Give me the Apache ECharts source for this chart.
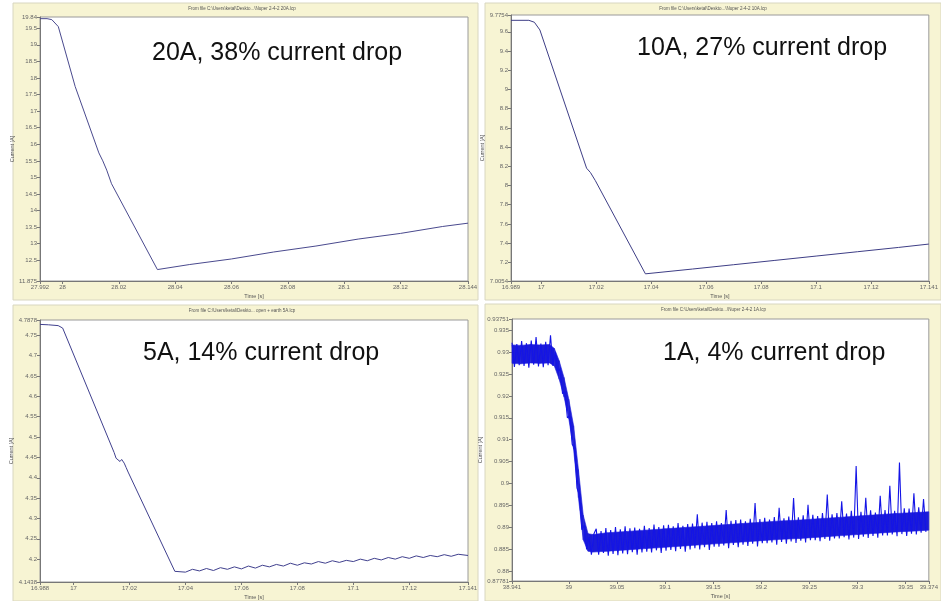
<!DOCTYPE html>
<html>
<head>
<meta charset="utf-8">
<title>Current drop</title>
<script src="https://cdn.jsdelivr.net/npm/echarts@6.0.0/dist/echarts.min.js"></script>
<style>
html, body { margin: 0; padding: 0; background: #fff; }
#main { width: 941px; height: 601px; }
</style>
</head>
<body>
<div id="main"></div>
<script>
// 20A
var time20 = [27.992, 27.9945, 27.9962, 27.9985, 28.0045, 28.0129, 28.0143, 28.0157, 28.0174, 28.0337, 28.045, 28.06, 28.075, 28.09, 28.105, 28.12, 28.135, 28.144];
var curr20 = [19.79, 19.79, 19.76, 19.55, 17.74, 15.74, 15.50, 15.22, 14.81, 12.22, 12.37, 12.54, 12.75, 12.93, 13.14, 13.31, 13.52, 13.62];
var yTicks20 = [11.875, 12.5, 13, 13.5, 14, 14.5, 15, 15.5, 16, 16.5, 17, 17.5, 18, 18.5, 19, 19.5, 19.84];
var xTicks20 = [27.992, 28, 28.02, 28.04, 28.06, 28.08, 28.1, 28.12, 28.144];

// 10A
var time10 = [16.989, 16.9955, 16.9975, 16.9995, 17.0165, 17.0179, 17.0197, 17.0379, 17.055, 17.07, 17.085, 17.10, 17.115, 17.13, 17.141];
var curr10 = [9.72, 9.72, 9.70, 9.62, 8.18, 8.135, 8.05, 7.08, 7.13, 7.175, 7.22, 7.265, 7.31, 7.355, 7.39];
var yTicks10 = [7.0054, 7.2, 7.4, 7.6, 7.8, 8, 8.2, 8.4, 8.6, 8.8, 9, 9.2, 9.4, 9.6, 9.7754];
var xTicks10 = [16.989, 17, 17.02, 17.04, 17.06, 17.08, 17.1, 17.12, 17.141];

// 5A
var time5 = [16.988, 16.991, 16.9945, 16.9961, 17.0145, 17.0152, 17.0158, 17.0166, 17.0172, 17.0181, 17.0188, 17.0195, 17.0362,
  17.040, 17.0425, 17.045, 17.0475, 17.050, 17.0525, 17.055, 17.0575, 17.060, 17.0625, 17.065, 17.0675, 17.070, 17.0725,
  17.075, 17.0775, 17.080, 17.0825, 17.085, 17.0875, 17.090, 17.0925, 17.095, 17.0975, 17.100, 17.1025, 17.105, 17.1075,
  17.110, 17.1125, 17.115, 17.1175, 17.120, 17.1225, 17.125, 17.1275, 17.130, 17.1325, 17.135, 17.1375, 17.141];
var curr5 = [4.777, 4.776, 4.774, 4.768, 4.462, 4.448, 4.452, 4.440, 4.445, 4.436, 4.425, 4.414, 4.170,
  4.168, 4.175, 4.171, 4.177, 4.172, 4.179, 4.175, 4.181, 4.176, 4.183, 4.178, 4.185, 4.181, 4.187,
  4.183, 4.190, 4.185, 4.191, 4.188, 4.194, 4.190, 4.196, 4.192, 4.197, 4.194, 4.200, 4.196, 4.202,
  4.198, 4.204, 4.200, 4.206, 4.202, 4.208, 4.204, 4.209, 4.206, 4.211, 4.207, 4.212, 4.209];
var yTicks5 = [4.1438, 4.2, 4.25, 4.3, 4.35, 4.4, 4.45, 4.5, 4.55, 4.6, 4.65, 4.7, 4.75, 4.7878];
var xTicks5 = [16.988, 17, 17.02, 17.04, 17.06, 17.08, 17.1, 17.12, 17.141];

// 1A, sampled every 2.5 ms from 38.941 s
var start1 = 38.941;
var step1 = 0.0025;
var curr1 = [
  0.9321, 0.9266, 0.9318, 0.9270, 0.9325, 0.9268, 0.9320, 0.9264, 0.9326, 0.9271,
  0.9334, 0.9267, 0.9319, 0.9265, 0.9323, 0.9270, 0.9338, 0.9268,
  0.9300, 0.9255, 0.9262, 0.9205, 0.9210, 0.9150, 0.9155, 0.9090, 0.9080, 0.8990,
  0.8975, 0.8895, 0.8905, 0.8850, 0.8878, 0.8838, 0.8885,
  0.8897, 0.8838, 0.8892, 0.8842, 0.8899, 0.8836, 0.8894, 0.8840, 0.8901, 0.8837,
  0.8896, 0.8841, 0.8903, 0.8839, 0.8898, 0.8844, 0.8900, 0.8838, 0.8897, 0.8843,
  0.8904, 0.8845, 0.8899, 0.8843, 0.8907, 0.8848, 0.8901, 0.8842, 0.8905, 0.8847,
  0.8906, 0.8849, 0.8903, 0.8846, 0.8910, 0.8851, 0.8904, 0.8845, 0.8908, 0.8850,
  0.8909, 0.8853, 0.8930, 0.8850, 0.8911, 0.8855, 0.8913, 0.8849, 0.8910, 0.8856,
  0.8914, 0.8856, 0.8910, 0.8859, 0.8940, 0.8853, 0.8915, 0.8860, 0.8917, 0.8855,
  0.8918, 0.8861, 0.8914, 0.8858, 0.8920, 0.8863, 0.8956, 0.8857, 0.8919, 0.8864,
  0.8922, 0.8864, 0.8918, 0.8866, 0.8924, 0.8861, 0.8945, 0.8867, 0.8921, 0.8863,
  0.8925, 0.8868, 0.8967, 0.8865, 0.8923, 0.8870, 0.8928, 0.8866, 0.8952, 0.8871,
  0.8929, 0.8871, 0.8926, 0.8869, 0.8933, 0.8874, 0.8975, 0.8870, 0.8930, 0.8875,
  0.8933, 0.8875, 0.8960, 0.8878, 0.8932, 0.8873, 0.8938, 0.8877, 0.9040, 0.8874,
  0.8936, 0.8879, 0.8968, 0.8876, 0.8939, 0.8881, 0.8934, 0.8877, 0.8972, 0.8882,
  0.8940, 0.8882, 0.8995, 0.8884, 0.8938, 0.8880, 0.9048, 0.8885, 0.8944, 0.8881,
  0.8943, 0.8886, 0.8978, 0.8884, 0.8946, 0.8888, 0.8965, 0.8890
];
// dense core of the 1A noise band (low and high edges)
var bandTime1 = [38.941, 38.95, 38.96, 38.97, 38.98, 38.985, 38.99, 38.995, 39.0, 39.005, 39.01, 39.015, 39.02, 39.025,
  39.04, 39.06, 39.08, 39.10, 39.12, 39.14, 39.16, 39.18, 39.20, 39.22, 39.24, 39.26, 39.28, 39.30, 39.32, 39.34, 39.36, 39.374];
var bandLow1 = [0.9274, 0.9273, 0.9275, 0.9274, 0.9275, 0.9268, 0.9238, 0.9198, 0.9148, 0.9078, 0.8968, 0.8872, 0.8846, 0.8844,
  0.8846, 0.8849, 0.8852, 0.8855, 0.8858, 0.8861, 0.8864, 0.8867, 0.8870, 0.8873, 0.8875, 0.8878, 0.8881, 0.8884, 0.8887, 0.8890, 0.8892, 0.8894];
var bandHigh1 = [0.9316, 0.9315, 0.9317, 0.9316, 0.9317, 0.9308, 0.9280, 0.9242, 0.9192, 0.9132, 0.9032, 0.8928, 0.8886, 0.8884,
  0.8888, 0.8891, 0.8894, 0.8897, 0.8900, 0.8903, 0.8906, 0.8909, 0.8912, 0.8915, 0.8917, 0.8920, 0.8923, 0.8926, 0.8929, 0.8932, 0.8934, 0.8936];
var yTicks1 = [0.87781, 0.88, 0.885, 0.89, 0.895, 0.9, 0.905, 0.91, 0.915, 0.92, 0.925, 0.93, 0.935, 0.93751];
var xTicks1 = [38.941, 39, 39.05, 39.1, 39.15, 39.2, 39.25, 39.3, 39.35, 39.374];

var files = [
  'From file C:\\Users\\ketal\\Deskto...\\Nuper 2-4-2 20A.lcp',
  'From file C:\\Users\\ketal\\Deskto...\\Nuper 2-4-2 10A.lcp',
  'From file C:\\Users\\ketal\\Deskto... open + earth 5A.lcp',
  'From file C:\\Users\\ketal\\Deskto...\\Nuper 2-4-2 1A.lcp'
];
var notes = ['20A, 38% current drop', '10A, 27% current drop', '5A, 14% current drop', '1A, 4% current drop'];

function pairs(t, v) {
  var out = [];
  for (var i = 0; i < v.length; i++) out.push([t[i], v[i]]);
  return out;
}
var data1 = [];
for (var i = 0; i < curr1.length; i++) data1.push([start1 + i * step1, curr1[i]]);
var band1 = [];
for (var j = 0; j < bandTime1.length; j++) band1.push([bandTime1[j], bandLow1[j], bandHigh1[j]]);

var grids = [
  {left: 40, top: 17, width: 428, height: 264},
  {left: 511, top: 15, width: 428, height: 266},
  {left: 40, top: 320, width: 428, height: 263},
  {left: 512, top: 319, width: 427, height: 262}
];
var xRanges = [[27.992, 28.144], [16.989, 17.141], [16.988, 17.141], [38.941, 39.374]];
var yRanges = [[11.875, 19.84], [7.0054, 9.7754], [4.1438, 4.7878], [0.87781, 0.93751]];
var xTicks = [xTicks20, xTicks10, xTicks5, xTicks1];
var yTicks = [yTicks20, yTicks10, yTicks5, yTicks1];
var panels = [[13, 3, 465, 297], [485, 3, 456, 297], [13, 305, 465, 296], [485, 304, 456, 297]];

function fmt(v) { return String(+(+v).toFixed(5)); }

var axisCommon = {
  type: 'value',
  splitLine: {show: false},
  axisLine: {show: true, onZero: false, lineStyle: {color: '#777', width: 1}},
  axisTick: {show: true, length: 3, lineStyle: {color: '#777'}},
  axisLabel: {fontSize: 6, color: '#666', fontFamily: 'Liberation Sans', formatter: fmt, margin: 3},
  nameLocation: 'middle',
  nameTextStyle: {fontSize: 5.5, color: '#555', fontFamily: 'Liberation Sans'}
};

var xAxes = [], yAxes = [], gridList = [], graphics = [];
for (var k = 0; k < 4; k++) {
  gridList.push(Object.assign({show: true, backgroundColor: '#fff', borderColor: '#9a9a9a', borderWidth: 1}, grids[k]));
  xAxes.push(echarts.util.merge({
    gridIndex: k, min: xRanges[k][0], max: xRanges[k][1],
    name: 'Time [s]', nameGap: 12,
    axisTick: {customValues: xTicks[k]},
    axisLabel: {customValues: xTicks[k]}
  }, axisCommon));
  yAxes.push(echarts.util.merge({
    gridIndex: k, min: yRanges[k][0], max: yRanges[k][1],
    name: 'Current [A]', nameGap: 17,
    axisTick: {customValues: yTicks[k]},
    axisLabel: {customValues: yTicks[k]}
  }, axisCommon));
  var p = panels[k];
  graphics.push({
    type: 'rect', z: -10,
    shape: {x: p[0], y: p[1], width: p[2], height: p[3]},
    style: {fill: '#f7f4d3', stroke: '#d8d6c0', lineWidth: 1}
  });
  graphics.push({
    type: 'text', z: 50,
    x: grids[k].left + grids[k].width / 2 - 12, y: p[1] + 6,
    style: {text: files[k], fontSize: 4.5, fontFamily: 'Liberation Sans', fill: '#555', align: 'center', verticalAlign: 'middle'}
  });
}
var notePos = [[152, 53], [637, 48], [143, 353], [663, 353]];
for (var n = 0; n < 4; n++) {
  graphics.push({
    type: 'text', z: 100,
    x: notePos[n][0], y: notePos[n][1],
    style: {text: notes[n], fontSize: 25, fontFamily: 'Liberation Sans', fill: '#111', align: 'left', verticalAlign: 'middle'}
  });
}

var chart = echarts.init(document.getElementById('main'));
chart.setOption({
  animation: false,
  backgroundColor: '#fff',
  grid: gridList,
  xAxis: xAxes,
  yAxis: yAxes,
  graphic: graphics,
  series: [
    {type: 'line', xAxisIndex: 0, yAxisIndex: 0, data: pairs(time20, curr20), showSymbol: false, lineStyle: {color: '#4a4a8e', width: 1}},
    {type: 'line', xAxisIndex: 1, yAxisIndex: 1, data: pairs(time10, curr10), showSymbol: false, lineStyle: {color: '#3e3e86', width: 1}},
    {type: 'line', xAxisIndex: 2, yAxisIndex: 2, data: pairs(time5, curr5), showSymbol: false, lineStyle: {color: '#40408e', width: 1}},
    {
      type: 'custom', xAxisIndex: 3, yAxisIndex: 3, data: band1,
      encode: {x: 0, y: [1, 2]},
      renderItem: function (params, api) {
        var j = params.dataIndex;
        if (j >= bandTime1.length - 1) return null;
        var pts = [
          api.coord([bandTime1[j], bandLow1[j]]),
          api.coord([bandTime1[j], bandHigh1[j]]),
          api.coord([bandTime1[j + 1], bandHigh1[j + 1]]),
          api.coord([bandTime1[j + 1], bandLow1[j + 1]])
        ];
        return {type: 'polygon', shape: {points: pts}, style: {fill: '#1c1cd8', stroke: '#1c1cd8', lineWidth: 0.6}};
      }
    },
    {type: 'line', xAxisIndex: 3, yAxisIndex: 3, data: data1, showSymbol: false, lineStyle: {color: '#1414e6', width: 1.1}}
  ]
});
</script>
</body>
</html>
